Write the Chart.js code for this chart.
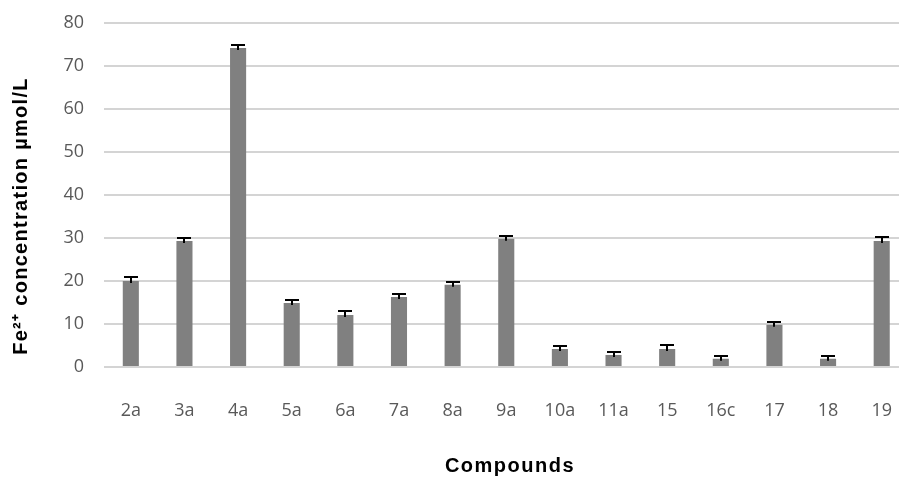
<!DOCTYPE html>
<html>
<head>
<meta charset="utf-8">
<script src="https://cdn.jsdelivr.net/npm/chart.js@4"></script>
<style>
  html, body { margin: 0; padding: 0; background: #fff; overflow: hidden; }
  #wrap { width: 925px; height: 477px; }
</style>
</head>
<body>
<div id="wrap"><canvas id="fe-chart" width="925" height="477"></canvas></div>
<script>
/* Variables */
let compounds = ['2a','3a','4a','5a','6a','7a','8a','9a','10a','11a','15','16c','17','18','19'];
let concentration = [20.0, 29.3, 74.2, 14.9, 12.1, 16.3, 19.1, 29.8, 4.2, 2.8, 4.2, 1.9, 9.8, 1.9, 29.3];
let errors = [1.0, 0.6, 0.8, 0.6, 1.0, 0.6, 0.6, 0.6, 0.6, 0.6, 1.0, 0.6, 0.6, 0.6, 1.0];
let y_ticks = [0, 10, 20, 30, 40, 50, 60, 70, 80];

let y_title = 'Fe\u00B2\u207A concentration \u00B5mol/L';
let x_title = 'Compounds';

/**
 * @description draws plus-only error bars on top of each bar
 */
const errorBars = {
    id: 'errorBars',
    afterDatasetsDraw(chart){
        const ctx = chart.ctx;
        const meta = chart.getDatasetMeta(0);
        const yScale = chart.scales.y;
        ctx.save();
        ctx.strokeStyle = '#000';
        ctx.lineWidth = 2;
        for (let i = 0; i < concentration.length; i ++){
            let x = Math.round(meta.data[i].x);
            let yBar = yScale.getPixelForValue(concentration[i]);
            let yTop = Math.round(yScale.getPixelForValue(concentration[i] + errors[i]));
            ctx.beginPath();
            ctx.moveTo(x, yBar + 2);
            ctx.lineTo(x, yTop);
            ctx.moveTo(x - 7, yTop);
            ctx.lineTo(x + 7, yTop);
            ctx.stroke();
        }
        ctx.restore();
    }
};

/**
 * @description axis titles, drawn by hand so they sit where the original has them
 */
const axisTitles = {
    id: 'axisTitles',
    afterDraw(chart){
        const ctx = chart.ctx;
        ctx.save();
        ctx.fillStyle = '#000';
        ctx.font = 'bold 20px "Liberation Sans", Arial, sans-serif';
        ctx.letterSpacing = '1.5px';
        ctx.textAlign = 'center';
        ctx.textBaseline = 'middle';
        ctx.fillText(x_title, 510, 466);

        ctx.letterSpacing = '1.3px';
        ctx.translate(21, 216);
        ctx.rotate(-Math.PI / 2);
        ctx.fillText(y_title, 0, 0);
        ctx.restore();
    }
};

let ctx = document.getElementById('fe-chart');
let fe_chart = new Chart(ctx, {
    type: 'bar',
    data: {
        labels: compounds,
        datasets: [{
            label: 'Fe2+',
            data: concentration,
            backgroundColor: '#808080',
            borderWidth: 0,
            categoryPercentage: 1.0,
            barPercentage: 0.3
        }]
    },
    options: {
        responsive: false,
        animation: false,
        layout: { padding: { top: 23, right: 0, left: 0, bottom: 0 } },
        plugins: {
            legend: { display: false },
            tooltip: { enabled: false }
        },
        scales: {
            x: {
                grid: { display: false, drawTicks: false },
                border: { display: false },
                ticks: {
                    color: '#595959',
                    padding: 33,
                    font: { family: '"Open Sans", sans-serif', size: 18 }
                },
                afterFit(scale){ scale.height = 110; }
            },
            y: {
                min: 0,
                max: 80,
                afterBuildTicks(scale){
                    scale.ticks = y_ticks.map((v) => ({ value: v }));
                },
                grid: { color: '#d4d4d4', lineWidth: 2, drawTicks: false },
                border: { display: false },
                ticks: {
                    color: '#595959',
                    padding: 20,
                    font: { family: '"Open Sans", sans-serif', size: 18 }
                },
                afterFit(scale){
                    scale.width = 104;
                    // tick padding would otherwise push the plot down
                    scale.paddingTop = 0;
                    scale.paddingBottom = 0;
                }
            }
        }
    },
    plugins: [errorBars, axisTitles]
});
</script>
</body>
</html>
